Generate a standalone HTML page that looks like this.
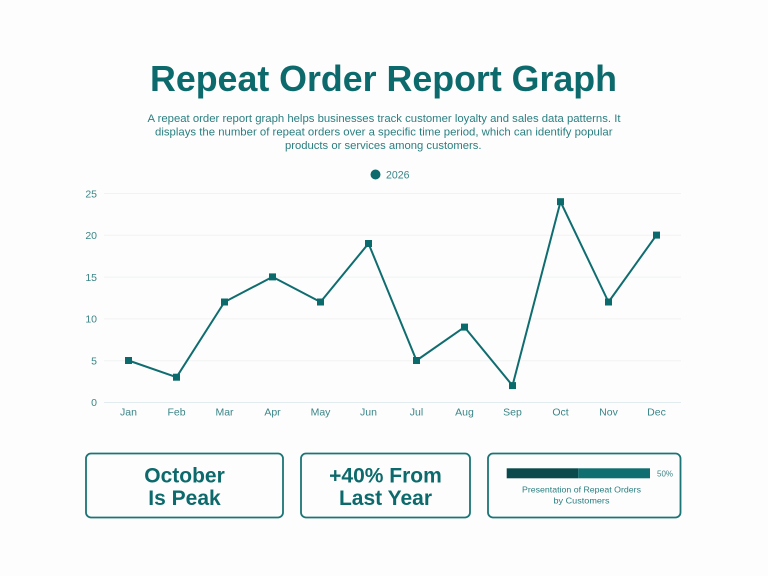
<!DOCTYPE html>
<html>
<head>
<meta charset="utf-8">
<style>
  html, body { margin:0; padding:0; background:#fdfdfd; }
  body { width:768px; height:576px; overflow:hidden; }
  svg { display:block; }
  text { font-family: "Liberation Sans", "DejaVu Sans", sans-serif; }
</style>
</head>
<body>
<svg width="768" height="576" viewBox="0 0 768 576" xmlns="http://www.w3.org/2000/svg">
  <rect x="0" y="0" width="768" height="576" fill="#fdfdfd"/>

  <!-- Title -->
  <text x="383.5" y="91" text-anchor="middle" font-size="36" font-weight="bold" fill="#0d6a6c" textLength="467" lengthAdjust="spacingAndGlyphs">Repeat Order Report Graph</text>

  <!-- Subtitle -->
  <g fill="#2b7f81" font-size="11">
    <text x="147.5" y="122" textLength="473" lengthAdjust="spacingAndGlyphs">A repeat order report graph helps businesses track customer loyalty and sales data patterns. It</text>
    <text x="155" y="135.5" textLength="457.5" lengthAdjust="spacingAndGlyphs">displays the number of repeat orders over a specific time period, which can identify popular</text>
    <text x="285" y="149" textLength="196.5" lengthAdjust="spacingAndGlyphs">products or services among customers.</text>
  </g>

  <!-- Legend -->
  <circle cx="375.5" cy="174.5" r="5" fill="#0d6a6c"/>
  <text x="386" y="178.5" font-size="11" fill="#3a8587" textLength="23.5" lengthAdjust="spacingAndGlyphs">2026</text>

  <!-- Gridlines -->
  <g stroke="#f1f3f3" stroke-width="1">
    <line x1="104" y1="193.5" x2="681" y2="193.5"/>
    <line x1="104" y1="235.3" x2="681" y2="235.3"/>
    <line x1="104" y1="277.1" x2="681" y2="277.1"/>
    <line x1="104" y1="318.9" x2="681" y2="318.9"/>
    <line x1="104" y1="360.7" x2="681" y2="360.7"/>
  </g>
  <line x1="104" y1="402.5" x2="681" y2="402.5" stroke="#e2ecee" stroke-width="1"/>

  <!-- Y labels -->
  <g fill="#3a8587" font-size="10.5" text-anchor="end">
    <text x="97" y="197.3">25</text>
    <text x="97" y="239">20</text>
    <text x="97" y="280.8">15</text>
    <text x="97" y="322.6">10</text>
    <text x="97" y="364.4">5</text>
    <text x="97" y="406.2">0</text>
  </g>

  <!-- X labels -->
  <g fill="#3a8587" font-size="10.5" text-anchor="middle">
    <text x="128.5" y="415.5">Jan</text>
    <text x="176.5" y="415.5">Feb</text>
    <text x="224.5" y="415.5">Mar</text>
    <text x="272.5" y="415.5">Apr</text>
    <text x="320.5" y="415.5">May</text>
    <text x="368.5" y="415.5">Jun</text>
    <text x="416.5" y="415.5">Jul</text>
    <text x="464.5" y="415.5">Aug</text>
    <text x="512.5" y="415.5">Sep</text>
    <text x="560.5" y="415.5">Oct</text>
    <text x="608.5" y="415.5">Nov</text>
    <text x="656.5" y="415.5">Dec</text>
  </g>

  <!-- Line series -->
  <polyline fill="none" stroke="#0f6d70" stroke-width="2" stroke-linejoin="round"
    points="128.5,360.5 176.5,377.2 224.5,302.0 272.5,276.9 320.5,302.0 368.5,243.5 416.5,360.5 464.5,327.1 512.5,385.6 560.5,201.7 608.5,302.0 656.5,235.1"/>
  <g fill="#0b6a6c">
    <rect x="125" y="357" width="7" height="7"/>
    <rect x="173" y="373.7" width="7" height="7"/>
    <rect x="221" y="298.5" width="7" height="7"/>
    <rect x="269" y="273.4" width="7" height="7"/>
    <rect x="317" y="298.5" width="7" height="7"/>
    <rect x="365" y="240" width="7" height="7"/>
    <rect x="413" y="357" width="7" height="7"/>
    <rect x="461" y="323.6" width="7" height="7"/>
    <rect x="509" y="382.1" width="7" height="7"/>
    <rect x="557" y="198.2" width="7" height="7"/>
    <rect x="605" y="298.5" width="7" height="7"/>
    <rect x="653" y="231.6" width="7" height="7"/>
  </g>

  <!-- Cards -->
  <g fill="none" stroke="#1b7577" stroke-width="1.8">
    <rect x="86" y="453.5" width="197" height="64" rx="5"/>
    <rect x="301" y="453.5" width="169" height="64" rx="5"/>
    <rect x="488" y="453.5" width="192.5" height="64" rx="5"/>
  </g>

  <g fill="#0d6a6c" font-size="21" font-weight="bold" text-anchor="middle">
    <text x="184.5" y="482.5">October</text>
    <text x="184.5" y="505">Is Peak</text>
    <text x="385.5" y="482.5">+40% From</text>
    <text x="385.5" y="505">Last Year</text>
  </g>

  <!-- Progress bar -->
  <rect x="506.7" y="468.3" width="71.6" height="10" fill="#0a4a4c"/>
  <rect x="578.3" y="468.3" width="71.7" height="10" fill="#0e6e70"/>
  <text x="657" y="476.5" font-size="8.5" fill="#3a8587" textLength="16" lengthAdjust="spacingAndGlyphs">50%</text>
  <g fill="#2b7f81" font-size="8.5" text-anchor="middle">
    <text x="581.5" y="492.5" textLength="119" lengthAdjust="spacingAndGlyphs">Presentation of Repeat Orders</text>
    <text x="581.5" y="503.5" textLength="56" lengthAdjust="spacingAndGlyphs">by Customers</text>
  </g>
</svg>
</body>
</html>
